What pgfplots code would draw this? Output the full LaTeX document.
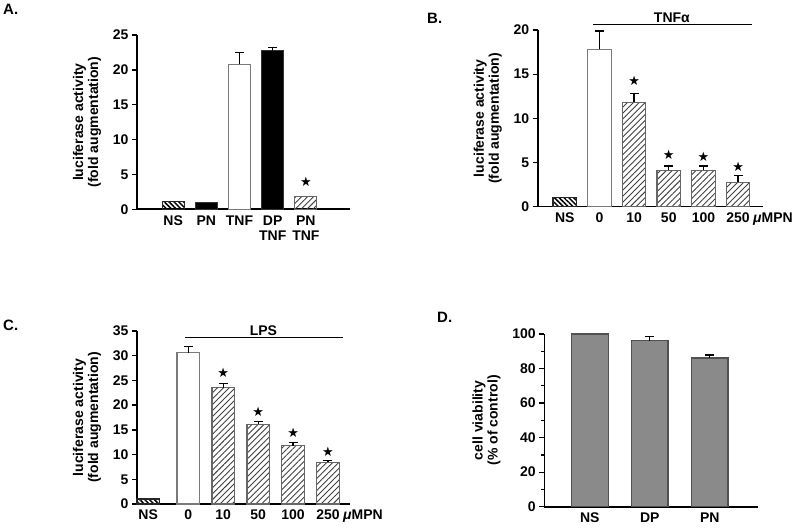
\documentclass[border=0pt]{standalone}
\usepackage{fontspec}
\setmainfont{Liberation Sans}
\newfontfamily\symfont{DejaVu Sans}
\usepackage{pgfplots}
\pgfplotsset{compat=1.18}
\usetikzlibrary{patterns.meta}

\definecolor{edge}{HTML}{7A7A7A}
\definecolor{dgray}{HTML}{8A8A8A}
\definecolor{dedge}{HTML}{505050}

\pgfplotsset{
  panel/.style={
    scale only axis, anchor=south west, clip=false,
    axis x line=bottom, axis y line=left,
    axis line style={line width=1.6pt, -},
    ymin=0,
    tick align=outside, major tick length=5pt, minor tick length=3pt,
    ytick style={line width=1.3pt, black},
    xtick style={draw=none},
    tick label style={font=\fontsize{14}{15}\selectfont\bfseries},
    xticklabel style={align=center, inner sep=1pt},
    label style={font=\fontsize{14}{15}\selectfont\bfseries, align=center},
    ylabel shift=5pt,
    /pgf/number format/assume math mode=true,
  },
  bars/.style={ybar, bar shift=0pt, bar width=#1, line width=1.2pt,
    error bars/y dir=plus, error bars/y explicit,
    error bars/error bar style={line width=1.3pt, black},
    error bars/error mark options={rotate=90, mark size=4.5pt, line width=1.3pt, black}},
  stars/.style={only marks, mark=text, text mark={\symfont\fontsize{13}{13}\selectfont ★}, mark options={black}},
  hatchdark/.style={draw=black!85, pattern={Lines[angle=-45, distance=3.4pt, line width=1.5pt]}, pattern color=black},
  hatchlight/.style={draw=black!60, pattern={Lines[angle=45, distance=4.2pt, line width=0.9pt]}, pattern color=black!75},
}

\begin{document}
\begin{tikzpicture}
\useasboundingbox (0pt,0pt) rectangle (800pt,528pt);

% panel letters
\node[anchor=north west, font=\fontsize{15}{15}\selectfont\bfseries, inner sep=0pt] at (3pt,524pt) {A.};
\node[anchor=north west, font=\fontsize{15}{15}\selectfont\bfseries, inner sep=0pt] at (427pt,515pt) {B.};
\node[anchor=north west, font=\fontsize{15}{15}\selectfont\bfseries, inner sep=0pt] at (3pt,208pt) {C.};
\node[anchor=north west, font=\fontsize{15}{15}\selectfont\bfseries, inner sep=0pt] at (437pt,216pt) {D.};

% ---- A ----
\begin{axis}[panel, at={(137pt,318.7pt)}, width=213pt, height=174.3pt,
  xmin=-1.09, xmax=5.33, ymax=25, ytick={0,5,...,25},
  xtick={0,1,2,3,4}, xticklabels={NS,PN,TNF,{DP\\TNF},{PN\\TNF}},
  ylabel={luciferase activity\\(fold augmentation)}]
\addplot[bars=22pt, hatchdark] coordinates {(0,1.15)};
\addplot[bars=22pt, draw=black!80, fill=black] coordinates {(1,0.95)};
\addplot[bars=22pt, draw=edge, fill=white] coordinates {(2,20.8) +- (0,1.7)};
\addplot[bars=22pt, draw=black!80, fill=black] coordinates {(3,22.75) +- (0,0.45)};
\addplot[bars=22pt, hatchlight] coordinates {(4,1.8)};
\addplot[stars] coordinates {(4,4.0)};
\end{axis}

% ---- B ----
\begin{axis}[panel, at={(537.7pt,321.3pt)}, width=225pt, height=176.7pt,
  xmin=-0.78, xmax=5.71, ymax=20, ytick={0,5,...,20},
  xtick={0,1,2,3,4,5}, xticklabels={NS,0,10,50,100,250},
  ylabel={luciferase activity\\(fold augmentation)}]
\addplot[bars=23.5pt, hatchdark] coordinates {(0,1.0)};
\addplot[bars=23.5pt, draw=edge, fill=white] coordinates {(1,17.8) +- (0,2.1)};
\addplot[bars=23.5pt, hatchlight] coordinates {(2,11.8) +- (0,1.0) (3,4.1) +- (0,0.5) (4,4.1) +- (0,0.5) (5,2.75) +- (0,0.75)};
\addplot[stars] coordinates {(2,14.2) (3,5.9) (4,5.7) (5,4.5)};
\draw[line width=1pt] (axis cs:0.825,20.57) -- (axis cs:5.40,20.57);
\node[anchor=south, font=\fontsize{14}{15}\selectfont\bfseries, inner sep=2pt] at (axis cs:3.09,20.57) {TNFα};
\node[anchor=base west, font=\fontsize{14}{15}\selectfont\bfseries, inner sep=0pt] at (axis cs:5.43,-1.8) {{\itshape μ}MPN};
\end{axis}

% ---- C ----
\begin{axis}[panel, at={(137pt,24pt)}, width=213pt, height=173pt,
  xmin=-0.47, xmax=5.63, ymax=35, ytick={0,5,...,35},
  xtick={-0.15,1,2,3,4,5}, xticklabels={NS,0,10,50,100,250},
  ylabel={luciferase activity\\(fold augmentation)}]
\addplot[bars=22.5pt, hatchdark] coordinates {(-0.15,1.0)};
\addplot[bars=22.5pt, draw=edge, fill=white] coordinates {(1,30.6) +- (0,1.2)};
\addplot[bars=22.5pt, hatchlight] coordinates {(2,23.5) +- (0,0.9) (3,16.1) +- (0,0.6) (4,11.8) +- (0,0.6) (5,8.4) +- (0,0.35)};
\addplot[stars] coordinates {(2,26.5) (3,18.6) (4,14.4) (5,10.5)};
\draw[line width=1pt] (axis cs:0.905,33.65) -- (axis cs:5.42,33.65);
\node[anchor=south, font=\fontsize{14}{15}\selectfont\bfseries, inner sep=2pt] at (axis cs:3.15,33.65) {LPS};
\node[anchor=base west, font=\fontsize{14}{15}\selectfont\bfseries, inner sep=0pt] at (axis cs:5.43,-3.15) {{\itshape μ}MPN};
\end{axis}

% ---- D ----
\begin{axis}[panel, at={(544.3pt,21.3pt)}, width=214pt, height=172.7pt,
  xmin=-0.76, xmax=2.81, ymax=100, ytick={0,20,...,100}, minor ytick={10,30,...,90},
  minor tick style={line width=1.3pt, black},
  xtick={0,1,2}, xticklabels={NS,DP,PN},
  ylabel={cell viability\\(\% of control)}]
\addplot[bars=36.5pt, draw=dedge, fill=dgray] coordinates {(0,100) (1,96.1) +- (0,2.3) (2,86.1) +- (0,1.7)};
\end{axis}
\end{tikzpicture}
\end{document}
